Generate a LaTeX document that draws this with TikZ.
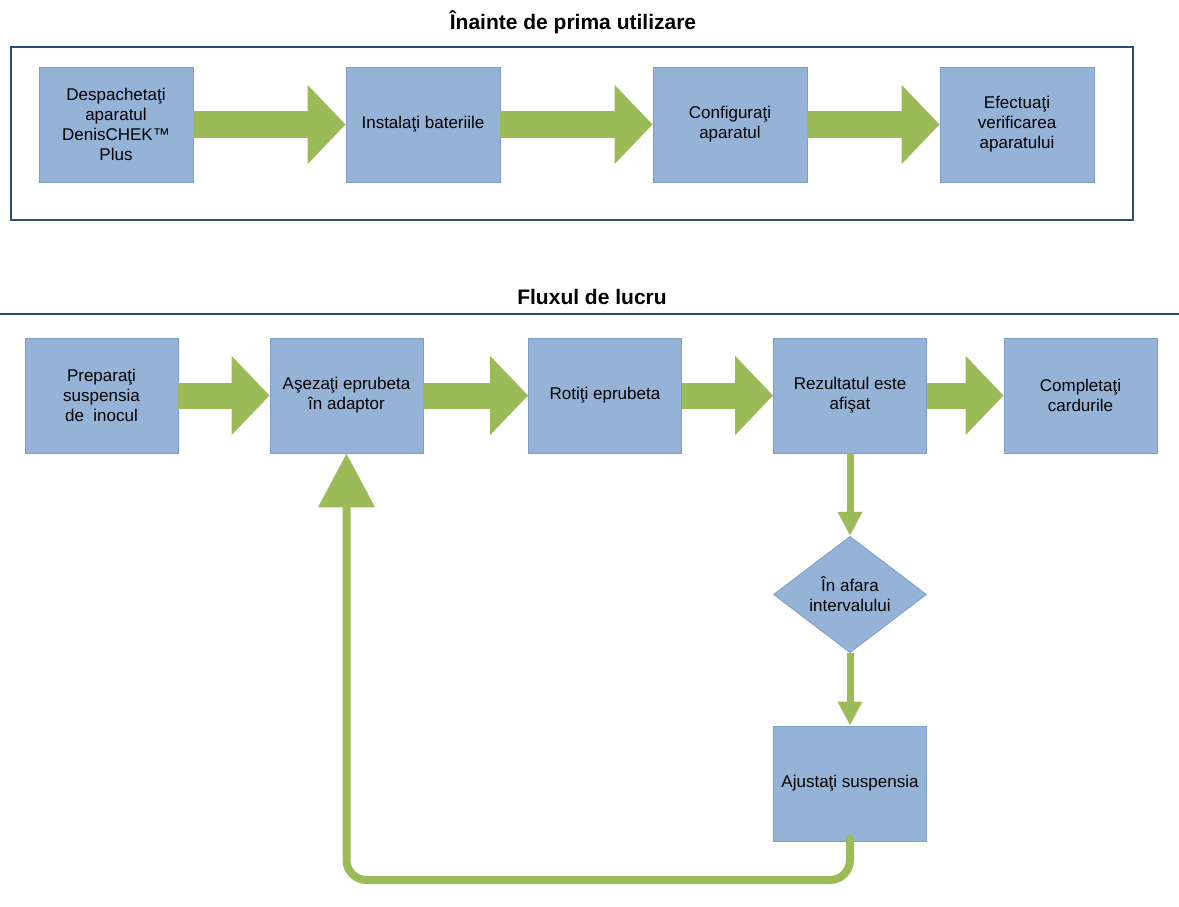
\documentclass[tikz,border=0pt]{standalone}
\usepackage{fontspec}
\setmainfont{Liberation Sans}
\usetikzlibrary{arrows.meta,shapes.geometric,calc}
\definecolor{boxfill}{HTML}{95B3D7}
\definecolor{boxline}{HTML}{7B9DC7}
\definecolor{arrgreen}{HTML}{9BBB59}
\definecolor{frameblue}{HTML}{2C4D75}
\tikzset{
  stepbox/.style={rectangle, fill=boxfill, draw=boxline, line width=0.8pt, minimum width=154pt, minimum height=115pt, inner sep=0pt, align=center, font=\fontsize{17}{20}\selectfont},
  decbox/.style={diamond, fill=boxfill, draw=boxline, line width=0.8pt, minimum width=153pt, minimum height=113pt, inner sep=0pt, align=center, font=\fontsize{17}{20}\selectfont},
  bigarrow/.style={draw=arrgreen, line width=26pt, -{Triangle[length=38pt,width=77pt]}},
  thinarrow/.style={draw=arrgreen, line width=7pt, -{Triangle[length=24pt,width=23pt]}},
  loopstyle/.style={draw=arrgreen, line width=8pt, line cap=round, rounded corners=20pt, -{Triangle[length=54pt,width=55pt]}},
  titletext/.style={font=\fontsize{21}{25}\selectfont\bfseries, anchor=base}
}
\begin{document}
\begin{tikzpicture}[x=1pt,y=-1pt]
\useasboundingbox (0,0) rectangle (1179,907);
% titles and frames
\node[titletext] (t1) at (573,30) {Înainte de prima utilizare};
\draw[frameblue, line width=2.5pt] (11,47) rectangle (1133,220);
\node[titletext] (t2) at (592,304) {Fluxul de lucru};
\draw[frameblue, line width=2.5pt] (0,314) -- (1179,314);
% top row
\node[stepbox] (b1) at (116,124.5) {Despachetaţi\\aparatul\\DenisCHEK™\\Plus};
\node[stepbox] (b2) at (423,124.5) {Instalaţi bateriile};
\node[stepbox] (b3) at (730,124.5) {Configuraţi\\aparatul};
\node[stepbox] (b4) at (1017,124.5) {Efectuaţi\\verificarea\\aparatului};
\draw[bigarrow] (b1.east) -- (b2.west);
\draw[bigarrow] (b2.east) -- (b3.west);
\draw[bigarrow] (b3.east) -- (b4.west);
% workflow
\node[stepbox, minimum width=153pt] (A) at (101.5,395.5) {Preparaţi\\suspensia\\de\ \ inocul};
\node[stepbox, minimum width=153pt] (B) at (346.5,395.5) {Aşezaţi eprubeta\\în adaptor};
\node[stepbox, minimum width=153pt] (C) at (605,395.5) {Rotiţi eprubeta};
\node[stepbox, minimum width=153pt] (D) at (850,395.5) {Rezultatul este\\afişat};
\node[stepbox, minimum width=153pt] (E) at (1080.5,395.5) {Completaţi\\cardurile};
\node[decbox] (Q) at (850,594.5) {În afara\\intervalului};
\node[stepbox, minimum width=153pt] (F) at (850,783.5) {Ajustaţi suspensia};
\draw[bigarrow] (A.east) -- (B.west);
\draw[bigarrow] (B.east) -- (C.west);
\draw[bigarrow] (C.east) -- (D.west);
\draw[bigarrow] (D.east) -- (E.west);
\draw[thinarrow] (D.south) -- (Q.north);
\draw[thinarrow] (Q.south) -- (F.north);
\coordinate (lowR) at (850,880);
\draw[loopstyle] ($(F.south)+(0,-3)$) -- (lowR) -- (B.south |- lowR) -- (B.south);
\end{tikzpicture}
\end{document}
